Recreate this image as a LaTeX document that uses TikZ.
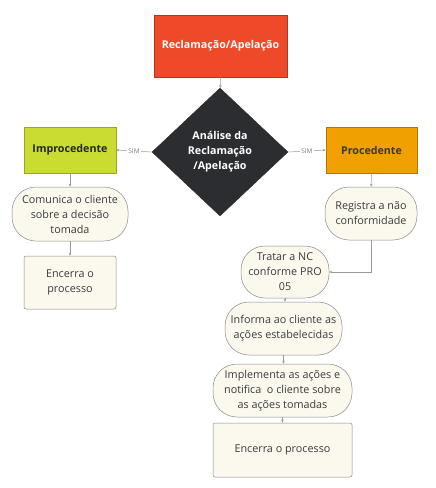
\documentclass[tikz,border=0pt]{standalone}
\usepackage{fontspec}
\setmainfont{Open Sans}
\usetikzlibrary{shapes.geometric,arrows.meta}
\definecolor{redbox}{HTML}{EE4A2A}
\definecolor{limebox}{HTML}{C8DC32}
\definecolor{orangebox}{HTML}{F0A000}
\definecolor{darkdia}{HTML}{2B2D31}
\definecolor{cream}{HTML}{FBF8EE}
\definecolor{edgegray}{HTML}{8A8A8A}
\definecolor{txt}{HTML}{3A3A3A}
\begin{document}
\begin{tikzpicture}[x=1pt,y=-1pt,
  colbox/.style={draw=#1!75!black, fill=#1, line width=0.6pt, inner sep=0pt,
    font=\bfseries\fontsize{10.7}{13}\selectfont},
  stadium/.style={draw=edgegray, fill=cream, line width=0.5pt, rounded corners=24pt,
    align=center, inner sep=0pt, text=txt, font=\fontsize{10.8}{15}\selectfont},
  endbox/.style={draw=edgegray, fill=cream, line width=0.5pt, rounded corners=2pt,
    align=center, inner sep=0pt, text=txt, font=\fontsize{10.8}{15}\selectfont},
  decision/.style={diamond, fill=darkdia, draw=darkdia, inner sep=0pt, align=center,
    text=white, minimum width=136pt, minimum height=128pt,
    font=\bfseries\fontsize{10.7}{15}\selectfont},
  conn/.style={draw=gray!80, line width=0.5pt, -{Stealth[length=3pt,width=2.6pt]}},
  simlabel/.style={fill=white, inner sep=1.5pt, text=gray, font=\fontsize{6.5}{7}\selectfont}]
\useasboundingbox (0,0) rectangle (436,488);

\node[colbox=redbox, text=white, minimum width=133pt, minimum height=62pt] (rec) at (220.5,46) {Reclamação/Apelação};
\node[decision] (ana) at (220,152) {Análise da\\Reclamação\\/Apelação};
\node[colbox=limebox, text=black!85, minimum width=92pt, minimum height=46pt] (imp) at (70,150) {Improcedente};
\node[colbox=orangebox, text=txt, minimum width=91pt, minimum height=46pt] (pro) at (371.5,150) {Procedente};

\node[stadium, minimum width=116pt, minimum height=54pt] (com) at (70,214) {Comunica o cliente\\sobre a decisão\\tomada};
\node[endbox, minimum width=92pt, minimum height=53pt] (encL) at (70,282.5) {Encerra o\\processo};

\node[stadium, minimum width=92pt, minimum height=53pt] (reg) at (371,213.5) {Registra a não\\conformidade};
\node[stadium, minimum width=88pt, minimum height=52pt] (tra) at (285,272) {Tratar a NC\\conforme PRO\\05};
\node[stadium, minimum width=117pt, minimum height=53pt] (inf) at (283.5,328.5) {Informa ao cliente as\\ações estabelecidas};
\node[stadium, minimum width=139pt, minimum height=53pt] (impl) at (282.5,390.5) {Implementa as ações e\\notifica\ \ o cliente sobre\\as ações tomadas};
\node[endbox, minimum width=139pt, minimum height=54pt] (encR) at (282.5,450) {Encerra o processo};

\draw[conn] (rec) -- (ana);
\draw[conn] (ana.west) -- node[simlabel]{SIM} (imp.east);
\draw[conn] (ana.east) -- node[simlabel]{SIM} (pro.west);
\draw[conn] (imp) -- (com);
\draw[conn] (com) -- (encL);
\draw[conn] (pro) -- (reg);
\draw[conn] (reg.south) |- (tra.east);
\draw[conn] (tra.south) -- (tra.south |- inf.north);
\draw[conn] (inf.south) -- (inf.south |- impl.north);
\draw[conn] (impl) -- (encR);
\end{tikzpicture}
\end{document}
